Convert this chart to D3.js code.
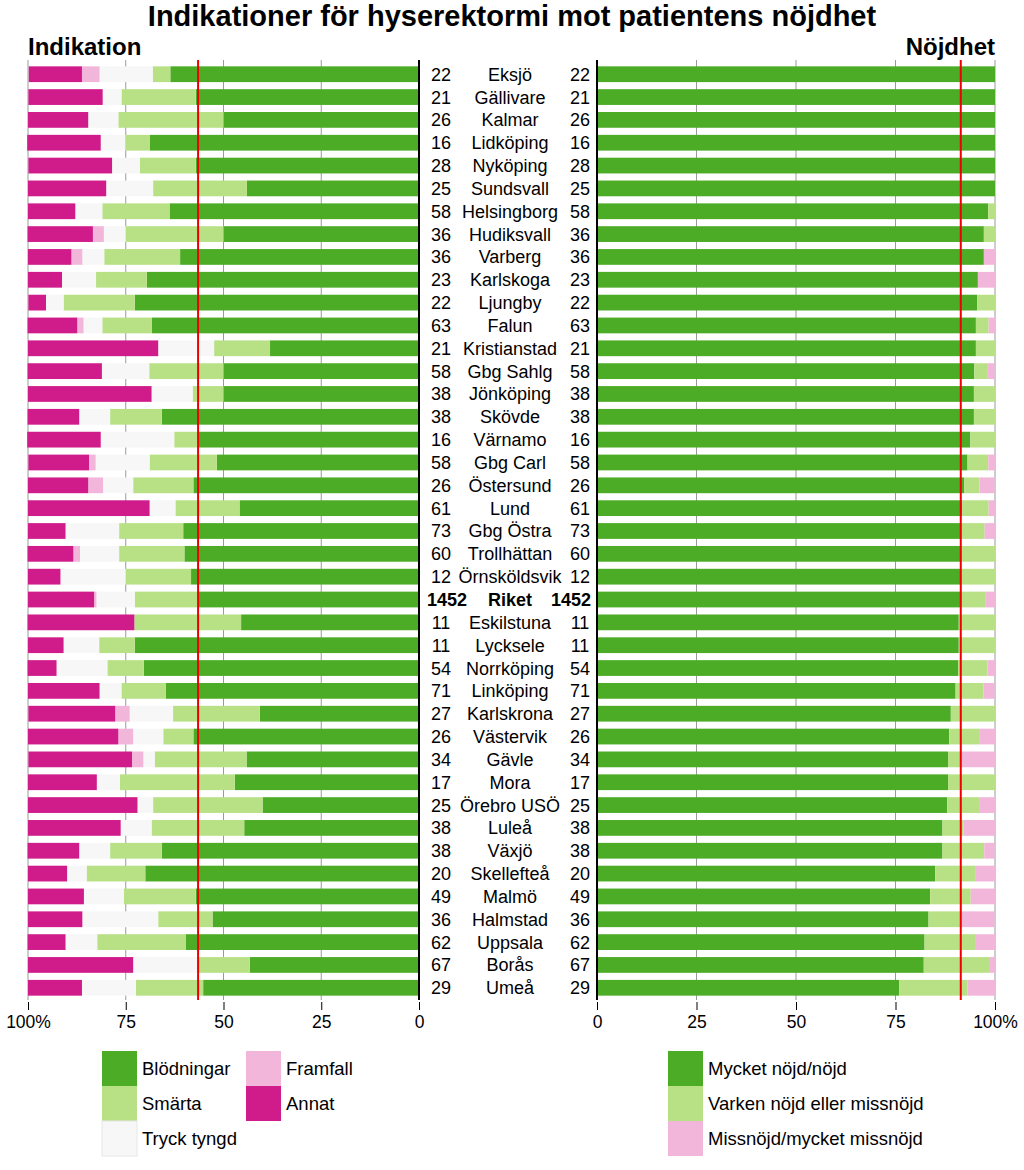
<!DOCTYPE html>
<html><head><meta charset="utf-8">
<script src="https://cdn.jsdelivr.net/npm/d3@7"></script>
<style>
body{margin:0;background:#fff;}
text{font-family:"Liberation Sans",Arial,sans-serif;fill:#000;}
</style></head>
<body>
<svg id="chart" width="1024" height="1170"></svg>
<script>
const categories = ["Eksjö","Gällivare","Kalmar","Lidköping","Nyköping","Sundsvall","Helsingborg","Hudiksvall","Varberg","Karlskoga","Ljungby","Falun","Kristianstad","Gbg Sahlg","Jönköping","Skövde","Värnamo","Gbg Carl","Östersund","Lund","Gbg Östra","Trollhättan","Örnsköldsvik","Riket","Eskilstuna","Lycksele","Norrköping","Linköping","Karlskrona","Västervik","Gävle","Mora","Örebro USÖ","Luleå","Växjö","Skellefteå","Malmö","Halmstad","Uppsala","Borås","Umeå"];
const nIndikation = [22,21,26,16,28,25,58,36,36,23,22,63,21,58,38,38,16,58,26,61,73,60,12,1452,11,11,54,71,27,26,34,17,25,38,38,20,49,36,62,67,29];
const nNojdhet = [22,21,26,16,28,25,58,36,36,23,22,63,21,58,38,38,16,58,26,61,73,60,12,1452,11,11,54,71,27,26,34,17,25,38,38,20,49,36,62,67,29];

// Indikation (% of patients)
const blodningar = [63.6,57.1,50.0,68.8,57.1,44.0,63.8,50.0,61.1,69.6,72.7,68.3,38.1,50.0,50.0,65.8,56.3,51.7,57.7,45.9,60.3,60.0,58.3,56.5,45.5,72.7,70.4,64.8,40.7,57.7,44.1,47.1,40.0,44.7,65.8,70.0,57.1,52.8,59.7,43.3,55.2];
const smarta = [4.5,19.0,26.9,6.3,14.3,24.0,17.2,25.0,19.4,13.0,18.2,12.7,14.3,19.0,7.9,13.2,6.3,17.2,15.4,16.4,16.4,16.7,16.7,16.2,27.3,9.1,9.3,11.3,22.2,7.7,23.5,29.4,28.0,23.7,13.2,15.0,18.4,13.9,22.6,13.4,17.2];
const tryckTyngd = [13.6,4.8,7.7,6.3,7.1,12.0,6.9,5.6,5.6,8.7,4.5,4.8,14.3,12.1,10.5,7.9,18.8,13.8,7.7,6.6,13.7,10.0,16.7,9.8,0,9.1,13.0,5.6,11.1,7.7,2.9,5.9,4.0,7.9,7.9,5.0,10.2,19.4,8.1,16.4,13.8];
const framfall = [4.5,0,0,0,0,0,0,2.8,2.8,0,0,1.6,0,0,0,0,0,1.7,3.8,0,0,1.7,0,0.6,0,0,0,0,3.7,3.8,2.9,0,0,0,0,0,0,0,0,0,0];
const annat = [13.6,19.0,15.4,18.8,21.4,20.0,12.1,16.7,11.1,8.7,4.5,12.7,33.3,19.0,31.6,13.2,18.8,15.5,15.4,31.1,9.6,11.7,8.3,16.9,27.3,9.1,7.4,18.3,22.2,23.1,26.5,17.6,28.0,23.7,13.2,10.0,14.3,13.9,9.7,26.9,13.8];

// Nöjdhet (% of patients)
const mycketNojd = [100,100,100,100,100,100,98.3,97.2,97.2,95.7,95.5,95.2,95.2,94.8,94.7,94.7,93.8,93.1,92.3,91.8,91.3,91.3,91.3,91.4,90.9,90.9,90.7,90.1,88.9,88.5,88.2,88.2,88.0,86.8,86.8,85.0,83.7,83.3,82.3,82.1,75.9];
const varken = [0,0,0,0,0,0,1.7,2.8,0,0,4.5,3.2,4.8,3.4,5.3,5.3,6.2,5.2,3.8,6.6,6.1,8.7,8.7,6.3,9.1,9.1,7.4,7.0,11.1,7.7,3.4,11.8,8.0,5.3,10.5,10.0,10.2,8.3,12.9,16.4,17.2];
const missnojd = [0,0,0,0,0,0,0,0,2.8,4.3,0,1.6,0,1.7,0,0,0,1.7,3.8,1.6,2.6,0,0,2.3,0,0,1.9,2.8,0,3.8,8.4,0,4.0,7.9,2.6,5.0,6.1,8.3,4.8,1.5,6.9];

const leftKeys = ["Blödningar","Smärta","Tryck tyngd","Framfall","Annat"];
const rightKeys = ["Mycket nöjd/nöjd","Varken nöjd eller missnöjd","Missnöjd/mycket missnöjd"];
const tickValues = [0,25,50,75,100];
const title = "Indikationer för hyserektormi mot patientens nöjdhet";
const refLabel = "Riket";

const colors = {"Blödningar":"#4dac26","Smärta":"#b8e186","Tryck tyngd":"#f7f7f7","Framfall":"#f1b6da","Annat":"#d01c8b",
  "Mycket nöjd/nöjd":"#4dac26","Varken nöjd eller missnöjd":"#b8e186","Missnöjd/mycket missnöjd":"#f1b6da"};

const leftRows = categories.map((c,i)=>({cat:c,"Blödningar":blodningar[i],"Smärta":smarta[i],"Tryck tyngd":tryckTyngd[i],"Framfall":framfall[i],"Annat":annat[i]}));
const rightRows = categories.map((c,i)=>({cat:c,"Mycket nöjd/nöjd":mycketNojd[i],"Varken nöjd eller missnöjd":varken[i],"Missnöjd/mycket missnöjd":missnojd[i]}));

const svg = d3.select("#chart");
svg.append("rect").attr("width",1024).attr("height",1170).attr("fill","#fff");

const yTop = 60, yBottom = 1000;
const y = d3.scaleBand().domain(categories).range([62,1000]).paddingInner(0.31).paddingOuter(0.19);
const xL = d3.scaleLinear().domain([0,100]).range([419,28]);
const xR = d3.scaleLinear().domain([0,100]).range([597,995]);

// gridlines
const grid = svg.append("g");
[25,50,75,100].forEach(v=>{
  grid.append("line").attr("x1",xL(v)).attr("x2",xL(v)).attr("y1",yTop).attr("y2",yBottom).attr("stroke","#9a9a9a").attr("stroke-width",1);
  grid.append("line").attr("x1",xR(v)).attr("x2",xR(v)).attr("y1",yTop).attr("y2",yBottom).attr("stroke","#9a9a9a").attr("stroke-width",1);
});

// left stacked bars
const stackL = d3.stack().keys(leftKeys)(leftRows);
svg.append("g").selectAll("g").data(stackL).join("g")
  .attr("fill",d=>colors[d.key])
  .selectAll("rect").data(d=>d).join("rect")
  .attr("x",d=>xL(d[1])).attr("width",d=>Math.max(0,xL(d[0])-xL(d[1])))
  .attr("y",d=>y(d.data.cat)).attr("height",y.bandwidth());

// right stacked bars
const stackR = d3.stack().keys(rightKeys)(rightRows);
svg.append("g").selectAll("g").data(stackR).join("g")
  .attr("fill",d=>colors[d.key])
  .selectAll("rect").data(d=>d).join("rect")
  .attr("x",d=>xR(d[0])).attr("width",d=>Math.max(0,xR(d[1])-xR(d[0])))
  .attr("y",d=>y(d.data.cat)).attr("height",y.bandwidth());

// reference lines (Riket)
const ri = categories.indexOf(refLabel);
svg.append("line").attr("x1",xL(blodningar[ri])).attr("x2",xL(blodningar[ri])).attr("y1",yTop).attr("y2",yBottom).attr("stroke","#ee0000").attr("stroke-width",2);
svg.append("line").attr("x1",xR(mycketNojd[ri])).attr("x2",xR(mycketNojd[ri])).attr("y1",yTop).attr("y2",yBottom).attr("stroke","#ee0000").attr("stroke-width",2);

// zero axis lines
svg.append("line").attr("x1",xL(0)).attr("x2",xL(0)).attr("y1",yTop).attr("y2",yBottom).attr("stroke","#000").attr("stroke-width",2);
svg.append("line").attr("x1",xR(0)).attr("x2",xR(0)).attr("y1",yTop).attr("y2",yBottom).attr("stroke","#000").attr("stroke-width",2);

// bottom axes
const fmt = d=> d===100 ? "100%" : String(d);
const axL = svg.append("g").attr("transform",`translate(0,${yBottom+2})`).call(d3.axisBottom(xL).tickValues(tickValues).tickFormat(fmt).tickSize(8).tickPadding(6));
const axR = svg.append("g").attr("transform",`translate(0,${yBottom+2})`).call(d3.axisBottom(xR).tickValues(tickValues).tickFormat(fmt).tickSize(8).tickPadding(6));
[axL,axR].forEach(a=>{
  a.select(".domain").remove();
  a.selectAll("text").attr("font-size",17.5).attr("font-family","Liberation Sans, Arial, sans-serif").attr("fill","#000");
  a.selectAll("line").attr("stroke","#000");
});

// center labels
const lab = svg.append("g");
categories.forEach((c,i)=>{
  const cy = y(c)+y.bandwidth()/2;
  const isRef = c===refLabel;
  const bold = isRef ? "bold" : "normal";
  lab.append("text").attr("x",isRef?447:441).attr("y",cy).attr("dy","0.36em").attr("text-anchor","middle").attr("font-size",18).attr("font-weight",bold).text(nIndikation[i]);
  lab.append("text").attr("x",510).attr("y",cy).attr("dy","0.36em").attr("text-anchor","middle").attr("font-size",18).attr("font-weight",bold).text(c);
  lab.append("text").attr("x",isRef?571:580).attr("y",cy).attr("dy","0.36em").attr("text-anchor","middle").attr("font-size",18).attr("font-weight",bold).text(nNojdhet[i]);
});

// titles
svg.append("text").attr("x",512).attr("y",26).attr("text-anchor","middle").attr("font-size",29).attr("font-weight","bold").text(title);
svg.append("text").attr("x",28).attr("y",55).attr("font-size",24).attr("font-weight","bold").text("Indikation");
svg.append("text").attr("x",995).attr("y",55).attr("text-anchor","end").attr("font-size",24).attr("font-weight","bold").text("Nöjdhet");

// legends
const sw = 35, sh = 35;
const legL = [
  {k:"Blödningar",x:102,row:0},{k:"Smärta",x:102,row:1},{k:"Tryck tyngd",x:102,row:2},
  {k:"Framfall",x:246,row:0},{k:"Annat",x:246,row:1}
];
const legR = rightKeys.map((k,i)=>({k:k,x:668,row:i}));
const lg = svg.append("g");
legL.concat(legR).forEach(d=>{
  const yy = 1051 + d.row*sh;
  lg.append("rect").attr("x",d.x).attr("y",yy).attr("width",sw).attr("height",sh).attr("fill",colors[d.k])
    .attr("stroke", d.k==="Tryck tyngd" ? "#e6e6e6" : "none").attr("stroke-width",1);
  lg.append("text").attr("x",d.x+sw+5).attr("y",yy+sh/2).attr("dy","0.36em").attr("font-size",18.5).text(d.k);
});
</script>
</body></html>
